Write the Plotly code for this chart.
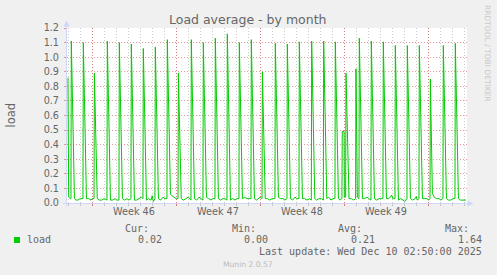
import plotly.graph_objects as go

# ---------------- data (days since graph start, load) ----------------
days = [
    0.08, 0.14, 0.28, 0.33,
    0.36, 0.62, 0.75, 0.90, 1.10, 1.33,
    1.36, 1.62, 1.80, 2.00, 2.10, 2.25,
    2.28, 2.52, 2.70, 2.90, 3.10, 3.33,
    3.36, 3.62, 3.80, 4.00, 4.15, 4.33,
    4.36, 4.62, 4.80, 5.00, 5.15, 5.33,
    5.36, 5.62, 5.80, 6.00, 6.20, 6.33,
    6.36, 6.62, 6.80, 7.00, 7.10, 7.20, 7.33,
    7.36, 7.62, 7.80, 8.00, 8.15, 8.33,
    8.36, 8.62, 8.75, 8.90, 9.10, 9.25,
    9.28, 9.52, 9.70, 9.90, 10.10, 10.33,
    10.36, 10.62, 10.80, 11.00, 11.15, 11.33,
    11.36, 11.62, 11.80, 12.00, 12.15, 12.33,
    12.36, 12.62, 12.80, 13.00, 13.15, 13.33,
    13.36, 13.62, 13.80, 14.00, 14.15, 14.33,
    14.36, 14.62, 14.80, 15.00, 15.15, 15.33,
    15.36, 15.62, 15.80, 16.00, 16.10, 16.25,
    16.28, 16.52, 16.70, 16.90, 17.10, 17.33,
    17.36, 17.62, 17.80, 18.00, 18.15, 18.33,
    18.36, 18.62, 18.80, 19.00, 19.15, 19.33,
    19.36, 19.62, 19.80, 20.00, 20.20, 20.36,
    20.39, 20.65, 20.80, 21.00, 21.20, 21.36,
    21.39, 21.65, 21.80, 22.00, 22.15, 22.33,
    22.36, 22.62, 22.75, 22.91,
    22.94, 23.09, 23.11, 23.20, 23.22,
    23.25, 23.50, 23.70, 23.90, 24.05,
    24.08, 24.20, 24.33,
    24.36, 24.62, 24.80, 25.00, 25.15, 25.33,
    25.36, 25.62, 25.80, 26.00, 26.15, 26.33,
    26.36, 26.62, 26.80, 26.95, 27.05, 27.15, 27.33,
    27.36, 27.62, 27.80, 28.00, 28.15, 28.33,
    28.36, 28.62, 28.80, 29.00, 29.10, 29.20, 29.33,
    29.36, 29.62, 29.80, 30.00, 30.15, 30.25,
    30.28, 30.45, 30.60, 30.80, 31.00, 31.15, 31.33,
    31.36, 31.62, 31.80, 32.00, 32.15, 32.33,
    32.36, 32.62, 32.80, 33.00, 33.25,
]
load = [
    0.86, 0.04, 0.03, 0.03,
    1.11, 0.03, 0.02, 0.02, 0.03, 0.03,
    1.10, 0.03, 0.03, 0.02, 0.03, 0.03,
    0.89, 0.03, 0.02, 0.02, 0.03, 0.02,
    1.11, 0.02, 0.02, 0.03, 0.02, 0.02,
    1.10, 0.03, 0.02, 0.03, 0.02, 0.03,
    1.09, 0.02, 0.02, 0.03, 0.04, 0.03,
    1.06, 0.02, 0.03, 0.02, 0.05, 0.01, 0.03,
    1.07, 0.03, 0.02, 0.04, 0.03, 0.03,
    1.12, 0.06, 0.05, 0.04, 0.03, 0.03,
    0.89, 0.03, 0.02, 0.03, 0.04, 0.02,
    1.12, 0.03, 0.02, 0.04, 0.03, 0.02,
    1.10, 0.04, 0.03, 0.02, 0.03, 0.03,
    1.13, 0.03, 0.02, 0.03, 0.03, 0.02,
    1.16, 0.02, 0.03, 0.02, 0.03, 0.03,
    1.10, 0.03, 0.04, 0.03, 0.03, 0.03,
    1.12, 0.03, 0.02, 0.03, 0.04, 0.03,
    0.90, 0.03, 0.03, 0.02, 0.03, 0.03,
    1.095, 0.04, 0.03, 0.03, 0.02, 0.03,
    1.09, 0.03, 0.02, 0.04, 0.03, 0.03,
    1.105, 0.03, 0.03, 0.02, 0.03, 0.02,
    1.11, 0.03, 0.02, 0.03, 0.03, 0.02,
    1.11, 0.03, 0.04, 0.02, 0.03, 0.03,
    1.105, 0.03, 0.02, 0.03,
    0.49, 0.49, 0.04, 0.04, 0.04,
    0.89, 0.03, 0.03, 0.02, 0.03,
    0.92, 0.04, 0.03,
    1.13, 0.03, 0.03, 0.04, 0.03, 0.02,
    1.11, 0.03, 0.02, 0.03, 0.03, 0.03,
    1.105, 0.03, 0.03, 0.04, 0.055, 0.03, 0.03,
    1.08, 0.02, 0.03, 0.02, 0.01, 0.03,
    1.08, 0.03, 0.02, 0.03, 0.045, 0.02, 0.03,
    1.08, 0.03, 0.03, 0.03, 0.02, 0.03,
    0.85, 0.065, 0.04, 0.03, 0.03, 0.02, 0.03,
    1.08, 0.03, 0.02, 0.02, 0.03, 0.03,
    1.095, 0.03, 0.02, 0.02, 0.02,
]

week_bounds = [2.1, 9.1, 16.1, 23.1, 30.1]
week_label_pos = [5.6, 12.6, 19.6, 26.6]
week_labels = ["Week 46", "Week 47", "Week 48", "Week 49"]
y_ticks = [0.0, 0.1, 0.2, 0.3, 0.4, 0.5, 0.6, 0.7, 0.8, 0.9, 1.0, 1.1, 1.2]
y_ticktext = ["0.0", "0.1", "0.2", "0.3", "0.4", "0.5", "0.6",
              "0.7", "0.8", "0.9", "1.0", "1.1", "1.2"]

title_text = "Load average - by month"
y_title = "load"
series_name = "load"
stat_heads = ["Cur:", "Min:", "Avg:", "Max:"]
stat_values = ["0.02", "0.00", "0.21", "1.64"]
last_update = "Last update: Wed Dec 10 02:50:00 2025"
side_text = "RRDTOOL / TOBI OETIKER"
footer = "Munin 2.0.57"

# ---------------- layout constants ----------------
W, H = 497, 275
L, R, T, B = 67, 30, 28, 72
PW, PH = W - L - R, H - T - B
X_END = PW / 12.0

LINE = "#00CC00"
FONT_C = "#666666"
AXIS_C = "#CFD6F8"
MGRID = "rgba(222,48,48,0.5)"
GRID = "rgba(143,143,143,0.45)"
SANS = "DejaVu Sans"
MONO = "DejaVu Sans Mono"


def px(x):
    return (x - L) / PW


def py(y):
    return (L * 0 + (T + PH) - y) / PH


fig = go.Figure()
fig.add_trace(go.Scatter(x=days, y=load, mode="lines",
                         line=dict(color=LINE, width=1),
                         hoverinfo="skip", showlegend=False))

fig.update_layout(
    width=W, height=H,
    margin=dict(l=L, r=R, t=T, b=B, pad=0),
    paper_bgcolor="#F0F0F0", plot_bgcolor="#FFFFFF",
    showlegend=False,
    xaxis=dict(range=[0, X_END], tickmode="array", tickvals=week_bounds,
               showticklabels=False, showgrid=True, gridcolor=MGRID,
               griddash="1px,2px", gridwidth=1, zeroline=False, showline=False,
               ticks="outside", ticklen=2, tickcolor=MGRID,
               minor=dict(tickmode="linear", tick0=0.1, dtick=1, showgrid=True,
                          gridcolor=GRID, griddash="1px,2px", gridwidth=1,
                          ticks="outside", ticklen=2, tickcolor=GRID),
               fixedrange=True),
    yaxis=dict(range=[0, 1.2], tickmode="array", tickvals=y_ticks,
               ticktext=y_ticktext, showgrid=True, gridcolor=MGRID,
               griddash="1px,2px", gridwidth=1, zeroline=False, showline=False,
               ticks="outside", ticklen=2, tickcolor=MGRID,
               ticklabelstandoff=3,
               tickfont=dict(family=SANS, size=9.7, color=FONT_C),
               fixedrange=True),
)

anns = []


def ann(text, x, y, size, color=FONT_C, family=SANS, xanchor="center",
        yanchor="middle", angle=0, xref="paper"):
    anns.append(dict(text=text, x=x, y=y, xref=xref, yref="paper",
                     xanchor=xanchor, yanchor=yanchor, showarrow=False,
                     textangle=angle, borderpad=0,
                     font=dict(family=family, size=size, color=color)))


ann(title_text, px(247.5), py(19.5), 12.5)
ann(y_title, px(10), py(115.5), 11.5, angle=-90)
ann(side_text, px(487.5), py(53.5), 7.5, color="#C8C8C8", angle=90)
for pos, lab in zip(week_label_pos, week_labels):
    ann(lab, pos, py(211.7), 9.7, xref="x")

head_right = [150.3, 257.3, 362.7, 470.0]
val_right = [162.7, 269.3, 375.7, 482.7]
for xr, t in zip(head_right, stat_heads):
    ann(t, px(xr), py(228.3), 10, family=MONO, xanchor="right")
ann(series_name, px(26.3), py(239.5), 10, family=MONO, xanchor="left")
for xr, t in zip(val_right, stat_values):
    ann(t, px(xr), py(239.5), 10, family=MONO, xanchor="right")
ann(last_update, px(482.7), py(251.3), 10, family=MONO, xanchor="right")
ann(footer, px(248), py(264.2), 7.6, color="#BBBBBB")

shapes = []
# axes with arrows
shapes.append(dict(type="line", xref="paper", yref="paper",
                   x0=px(66.5), x1=px(66.5), y0=py(206), y1=py(24),
                   line=dict(color=AXIS_C, width=1)))
shapes.append(dict(type="path", xref="paper", yref="paper",
                   path="M {} {} L {} {} L {} {} Z".format(
                       px(63.5), py(26.5), px(69.5), py(26.5), px(66.5), py(20.5)),
                   fillcolor=AXIS_C, line=dict(color=AXIS_C, width=0)))
shapes.append(dict(type="line", xref="paper", yref="paper",
                   x0=px(63), x1=px(469), y0=py(203.5), y1=py(203.5),
                   line=dict(color=AXIS_C, width=1)))
shapes.append(dict(type="path", xref="paper", yref="paper",
                   path="M {} {} L {} {} L {} {} Z".format(
                       px(467.5), py(200.5), px(467.5), py(206.5), px(473.5), py(203.5)),
                   fillcolor=AXIS_C, line=dict(color=AXIS_C, width=0)))
# legend swatch
shapes.append(dict(type="rect", xref="paper", yref="paper",
                   x0=px(14), x1=px(20), y0=py(243), y1=py(237),
                   fillcolor=LINE, line=dict(width=0)))

fig.update_layout(annotations=anns, shapes=shapes)
fig.write_html("out.html")
